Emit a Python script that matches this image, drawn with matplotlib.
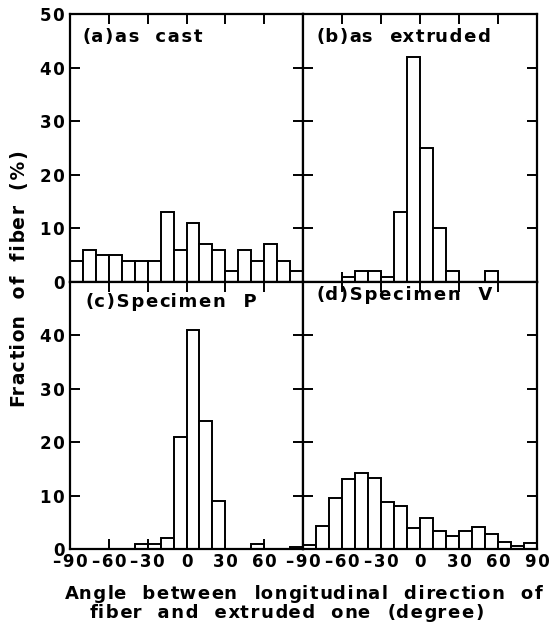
import numpy as np
import matplotlib
matplotlib.use("Agg")
import matplotlib.pyplot as plt

FAMILY = ['DejaVu Sans']
plt.rcParams['font.family'] = FAMILY
plt.rcParams['font.weight'] = 'bold'

# angle bins (degree), 10-degree wide from -90 to 90
bin_left = np.arange(-90, 90, 10)

frac_as_cast = [4, 6, 5, 5, 4, 4, 4, 13, 6, 11, 7, 6, 2, 6, 4, 7, 4, 2]
frac_as_extruded = [0, 0, 0, 1, 2, 2, 1, 13, 42, 25, 10, 2, 0, 0, 2, 0, 0, 0]
frac_specimen_P = [0, 0, 0, 0, 0, 1, 1, 2, 21, 41, 24, 9, 0, 0, 1, 0, 0, 0.3]
frac_specimen_V = [0.8, 4.4, 9.5, 13.1, 14.3, 13.3, 8.8, 8.0, 3.9, 5.8, 3.3, 2.5, 3.3, 4.2, 2.9, 1.4, 0.6, 1.1]

panel_titles = ["(a)as  cast", "(b)as  extruded", "(c)Specimen  P", "(d)Specimen  V"]
ytick_vals_top = [0, 10, 20, 30, 40, 50]
ytick_vals_bot = [0, 10, 20, 30, 40]
xtick_vals_left = [-90, -60, -30, 0, 30, 60]
xtick_vals_right = [-90, -60, -30, 0, 30, 60, 90]
xtick_labels_left = ["\u201390", "\u201360", "\u201330", "0", "30", "60"]
xtick_labels_right = ["\u201390", "\u201360", "\u201330", "0", "30", "60", "90"]
ylabel_text = "Fraction  of  fiber  (%)"
xlabel_line1 = "Angle  between  longitudinal  direction  of"
xlabel_line2 = "fiber  and  extruded  one  (degree)"

HS = "\u200a"

W, H = 552, 633
fig = plt.figure(figsize=(W / 100, H / 100), dpi=100)
renderer = fig.canvas.get_renderer()


def measure(s, fs):
    t = fig.text(0, 0, s, fontsize=fs, fontweight='bold')
    w = t.get_window_extent(renderer).width
    t.remove()
    return w


def track(s, fs, target):
    """Return (text, fontsize) with hair spaces so it is about target px wide."""
    w0 = measure(s, fs)
    if w0 > target:
        fs = fs * target / w0
        return s, fs
    h = (measure("x" + HS * 20 + "x", fs) - measure("xx", fs)) / 20.0
    gaps = len(s) - 1
    if gaps <= 0 or h <= 0:
        return s, fs
    n = max(0, int(round((target - w0) / h)))
    out = s[0]
    for i in range(gaps):
        k = (i + 1) * n // gaps - i * n // gaps
        out += HS * k + s[i + 1]
    return out, fs


def track_k(s, k):
    return (HS * k).join(s)


def rect(x0, y0, x1, y1):
    return [x0 / W, 1 - y1 / H, (x1 - x0) / W, (y1 - y0) / H]


axes = [
    fig.add_axes(rect(70, 14, 303, 282)),
    fig.add_axes(rect(303, 14, 537, 282)),
    fig.add_axes(rect(70, 282, 303, 549)),
    fig.add_axes(rect(303, 282, 537, 549)),
]
datas = [frac_as_cast, frac_as_extruded, frac_specimen_P, frac_specimen_V]
# (left px, baseline px, target width px)
title_geom = [(83, 41.5, 119), (317, 41.5, 173), (86, 307, 171), (317, 300, 175)]
TFS = 13
TICKFS = 12

# tick label tracking: a two-digit label is ~24 px wide in the reference
w2 = measure("30", TICKFS)
hw = (measure("3" + HS * 20 + "0", TICKFS) - w2) / 20.0
kt = max(0, int(round((24 - w2) / hw)))

for i, (ax, d) in enumerate(zip(axes, datas)):
    ax.bar(bin_left, d, width=10, align='edge', facecolor='white',
           edgecolor='black', linewidth=1.4, zorder=2)
    ax.set_xlim(-90, 90)
    ax.set_ylim(0, 50)
    for s in ax.spines.values():
        s.set_linewidth(1.6)
    ax.tick_params(direction='in', length=7, width=1.4, top=True, right=True,
                   labelsize=TICKFS)
    ax.tick_params(axis='y', pad=4)
    ax.tick_params(axis='x', pad=3)
    ax.set_xticks(xtick_vals_left)
    ax.set_yticks(ytick_vals_bot if i >= 2 else ytick_vals_top)
    if i in (1, 3):
        ax.tick_params(labelleft=False)
    if i in (0, 1):
        ax.tick_params(labelbottom=False)
    lx, by, tw = title_geom[i]
    txt, fs = track(panel_titles[i], TFS, tw)
    fig.text(lx / W, 1 - by / H, txt, ha='left', va='baseline',
             fontsize=fs, fontweight='bold')

axes[2].set_xticks(xtick_vals_left)
axes[2].set_xticklabels([track_k(s, kt) for s in xtick_labels_left], fontweight='bold')
axes[3].set_xticks(xtick_vals_right)
axes[3].set_xticklabels([track_k(s, kt) for s in xtick_labels_right], fontweight='bold')
axes[2].set_yticks(ytick_vals_bot)
axes[2].set_yticklabels([track_k(str(v), kt) for v in ytick_vals_bot], fontweight='bold')
axes[0].set_yticklabels([track_k(str(v), kt) for v in ytick_vals_top], fontweight='bold')

YFS = 13.5
txt, fs = track(ylabel_text, YFS, 257)
fig.text(20 / W, 1 - 278.5 / H, txt, rotation=90,
         ha='center', va='center', fontsize=fs, fontweight='bold')
XFS = 13
txt, fs = track(xlabel_line1, XFS, 478)
fig.text(65 / W, 1 - 599 / H, txt,
         ha='left', va='baseline', fontsize=fs, fontweight='bold')
txt, fs = track(xlabel_line2, XFS, 395)
fig.text(90 / W, 1 - 618 / H, txt,
         ha='left', va='baseline', fontsize=fs, fontweight='bold')

fig.savefig("out.png", dpi=100)
